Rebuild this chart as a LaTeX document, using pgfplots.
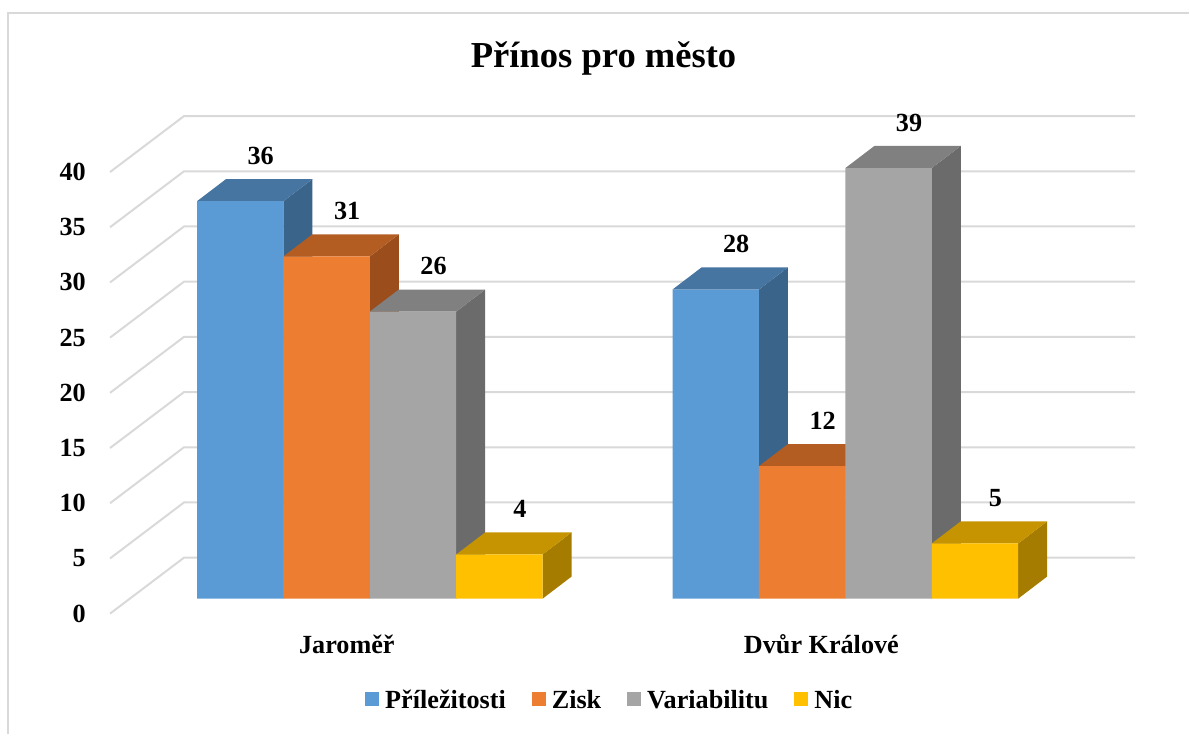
\documentclass[border=0pt]{standalone}
\usepackage{fontspec}
\setmainfont{Liberation Serif}
\usepackage{pgfplots}
\pgfplotsset{compat=1.18}
\definecolor{gridC}{HTML}{D9D9D9}
\definecolor{frameC}{HTML}{D9D9D9}
\definecolor{blueF}{HTML}{5B9BD5}
\definecolor{blueT}{HTML}{4775A2}
\definecolor{blueS}{HTML}{3A6489}
\definecolor{orangeF}{HTML}{ED7D31}
\definecolor{orangeT}{HTML}{B35D22}
\definecolor{orangeS}{HTML}{9B4D1C}
\definecolor{greyF}{HTML}{A5A5A5}
\definecolor{greyT}{HTML}{808080}
\definecolor{greyS}{HTML}{6B6B6B}
\definecolor{yellowF}{HTML}{FFC000}
\definecolor{yellowT}{HTML}{C59400}
\definecolor{yellowS}{HTML}{A67C00}
\newcommand{\lblfont}{\fontsize{13.1}{15}\selectfont\bfseries}
\pgfplotsset{
  barlbl/.style={nodes near coords,
    every node near coord/.append style={anchor=base, inner sep=0pt, xshift=10.25pt, yshift=18.5pt, font=\lblfont, text=black}},
}
\begin{document}
\begin{tikzpicture}
\begin{axis}[
  x=0.5pt, y=5.525pt,
  xmin=0, xmax=1190, ymin=-12.308, ymax=54.208,
  clip=false,
  axis line style={draw=none},
  major tick length=0pt,
  xtick={347,822}, xticklabels={Jaroměř, Dvůr Králové},
  ytick={-1.357,3.643,8.643,13.643,18.643,23.643,28.643,33.643,38.643},
  yticklabels={0,5,10,15,20,25,30,35,40},
  xticklabel style={anchor=base, yshift=40.5pt, font=\lblfont, inner sep=0pt},
  yticklabel style={anchor=east, xshift=43pt, font=\lblfont, inner sep=0pt},
  /pgf/number format/assume math mode=true,
  legend columns=4,
  legend style={at={(axis cs:365,-9.23)}, anchor=west, draw=none, fill=none,
    inner sep=0pt, font=\lblfont,
    nodes={inner xsep=3pt, inner ysep=0pt},
    cells={anchor=base west},
    /tikz/every even column/.append style={column sep=10pt}},
]
% frame
\addplot[draw=frameC, line width=1pt, forget plot] coordinates {(8,-12.308) (8,53.03) (1190,53.03)};
% gridlines (side wall + back wall)
\addplot[draw=gridC, line width=1pt, forget plot] coordinates {(110,-1.357) (184,3.71) (1136,3.71)};
\addplot[draw=gridC, line width=1pt, forget plot] coordinates {(110,3.643) (184,8.71) (1136,8.71)};
\addplot[draw=gridC, line width=1pt, forget plot] coordinates {(110,8.643) (184,13.71) (1136,13.71)};
\addplot[draw=gridC, line width=1pt, forget plot] coordinates {(110,13.643) (184,18.71) (1136,18.71)};
\addplot[draw=gridC, line width=1pt, forget plot] coordinates {(110,18.643) (184,23.71) (1136,23.71)};
\addplot[draw=gridC, line width=1pt, forget plot] coordinates {(110,23.643) (184,28.71) (1136,28.71)};
\addplot[draw=gridC, line width=1pt, forget plot] coordinates {(110,28.643) (184,33.71) (1136,33.71)};
\addplot[draw=gridC, line width=1pt, forget plot] coordinates {(110,33.643) (184,38.71) (1136,38.71)};
\addplot[draw=gridC, line width=1pt, forget plot] coordinates {(110,38.643) (184,43.71) (1136,43.71)};
% ---- Příležitosti (36, 28)
\addplot[fill=blueS, draw=none, forget plot] coordinates {(283.5,0) (283.5,36) (312.5,38) (312.5,2)};
\addplot[fill=blueT, draw=none, forget plot] coordinates {(197,36) (283.5,36) (312.5,38) (226,38)};
\addplot[fill=blueS, draw=none, forget plot] coordinates {(759.5,0) (759.5,28) (788.5,30) (788.5,2)};
\addplot[fill=blueT, draw=none, forget plot] coordinates {(673,28) (759.5,28) (788.5,30) (702,30)};
\addplot[ybar, bar width=86.5, bar shift=0pt, fill=blueF, draw=none, barlbl,
  legend image code/.code={\fill[blueF] (0pt,1pt) rectangle (7pt,8pt);}]
  coordinates {(240.25,36) (716.25,28)};
\addlegendentry{Příležitosti}
% ---- Zisk (31, 12)
\addplot[fill=orangeS, draw=none, forget plot] coordinates {(370,0) (370,31) (399,33) (399,2)};
\addplot[fill=orangeT, draw=none, forget plot] coordinates {(283.5,31) (370,31) (399,33) (312.5,33)};
\addplot[fill=orangeS, draw=none, forget plot] coordinates {(846,0) (846,12) (875,14) (875,2)};
\addplot[fill=orangeT, draw=none, forget plot] coordinates {(759.5,12) (846,12) (875,14) (788.5,14)};
\addplot[ybar, bar width=86.5, bar shift=0pt, fill=orangeF, draw=none, barlbl,
  legend image code/.code={\fill[orangeF] (0pt,1pt) rectangle (7pt,8pt);}]
  coordinates {(326.75,31) (802.75,12)};
\addlegendentry{Zisk}
% ---- Variabilitu (26, 39)
\addplot[fill=greyS, draw=none, forget plot] coordinates {(456.5,0) (456.5,26) (485.5,28) (485.5,2)};
\addplot[fill=greyT, draw=none, forget plot] coordinates {(370,26) (456.5,26) (485.5,28) (399,28)};
\addplot[fill=greyS, draw=none, forget plot] coordinates {(932.5,0) (932.5,39) (961.5,41) (961.5,2)};
\addplot[fill=greyT, draw=none, forget plot] coordinates {(846,39) (932.5,39) (961.5,41) (875,41)};
\addplot[ybar, bar width=86.5, bar shift=0pt, fill=greyF, draw=none, barlbl,
  legend image code/.code={\fill[greyF] (0pt,1pt) rectangle (7pt,8pt);}]
  coordinates {(413.25,26) (889.25,39)};
\addlegendentry{Variabilitu}
% ---- Nic (4, 5)
\addplot[fill=yellowS, draw=none, forget plot] coordinates {(543,0) (543,4) (572,6) (572,2)};
\addplot[fill=yellowT, draw=none, forget plot] coordinates {(456.5,4) (543,4) (572,6) (485.5,6)};
\addplot[fill=yellowS, draw=none, forget plot] coordinates {(1019,0) (1019,5) (1048,7) (1048,2)};
\addplot[fill=yellowT, draw=none, forget plot] coordinates {(932.5,5) (1019,5) (1048,7) (961.5,7)};
\addplot[ybar, bar width=86.5, bar shift=0pt, fill=yellowF, draw=none, barlbl,
  legend image code/.code={\fill[yellowF] (0pt,1pt) rectangle (7pt,8pt);}]
  coordinates {(499.75,4) (975.75,5)};
\addlegendentry{Nic}
% title
\node[anchor=base, font=\fontsize{18.3}{22}\selectfont\bfseries] at (axis cs:604,48.14) {Přínos pro město};
\end{axis}
\end{tikzpicture}
\end{document}
